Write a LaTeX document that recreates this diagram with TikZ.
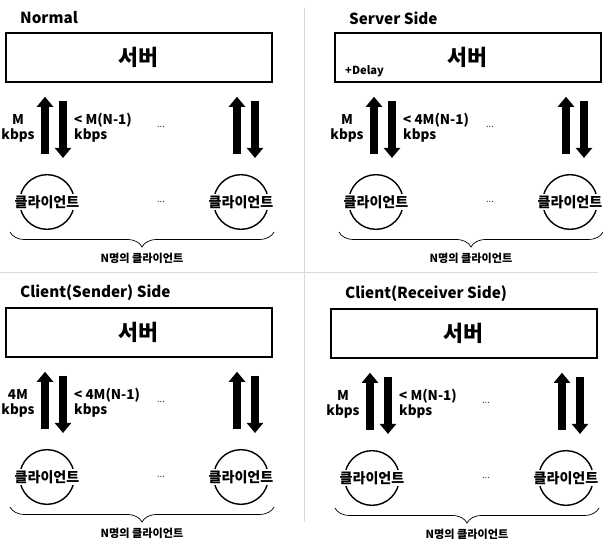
\documentclass[tikz,border=0pt]{standalone}
\usepackage{fontspec}
\setmainfont{Noto Sans CJK KR}
\usetikzlibrary{arrows.meta,decorations.pathreplacing,positioning}

\tikzset{
  title/.style={font=\bfseries\fontsize{13}{15}\selectfont, anchor=west},
  server/.style={draw, line width=1.5pt, minimum width=79.8mm, minimum height=14.7mm,
    anchor=north west, font=\bfseries\fontsize{18.5}{20}\selectfont},
  client/.style={draw, circle, line width=1.2pt, minimum size=16.4mm, inner sep=0pt},
  clientname/.style={fill=white, inner sep=1pt, font=\bfseries\fontsize{12}{13}\selectfont},
  rate/.style={font=\bfseries\fontsize{11.5}{13}\selectfont, inner sep=0pt},
  fat/.style={line width=2.4mm, -{Triangle[width=4.8mm,length=3mm]}},
  moredots/.style={font=\fontsize{8}{9}\selectfont, text=black!80},
  brace/.style={decorate, decoration={brace, amplitude=4.5mm}, line width=0.6pt},
  count/.style={font=\bfseries\fontsize{9.5}{11}\selectfont},
  sep/.style={draw=black!15, line width=0.8pt}
}

% #1 prefix, #2 left, #3 top, #4 title, #5 up rate, #6 down rate
\newcommand{\drawpanel}[6]{%
  \begin{scope}[name prefix=#1-]
    \node[title] (title) at ({#2+11},{#3-14}) {#4};
    \node[server] (srv) at (#2,#3) {서버};

    \node[client] (c1) at ({#2+42},{#3+170}) {};
    \node[client] (c2) at ({#2+236},{#3+170}) {};
    \node[clientname] (n1) at (c1) {클라이언트};
    \node[clientname] (n2) at (c2) {클라이언트};
    \node[moredots] (d2) at ({#2+156},{#3+170}) {...};

    % up / down streams
    \draw[fat, shorten <=6mm, shorten >=4.2mm] ([xshift=-0.6mm]c1.north) -- ([xshift=-0.6mm]c1.north |- srv.south);
    \draw[fat, shorten <=5.4mm, shorten >=4.8mm] ([xshift=4.8mm]c1.north |- srv.south) -- ([xshift=4.8mm]c1.north);
    \draw[fat, shorten <=6mm, shorten >=4.2mm] ([xshift=-1.2mm]c2.north) -- ([xshift=-1.2mm]c2.north |- srv.south);
    \draw[fat, shorten <=5.4mm, shorten >=4.8mm] ([xshift=4.2mm]c2.north |- srv.south) -- ([xshift=4.2mm]c2.north);

    \node[rate, align=center] (up) at ({#2+13},{#3+96}) {#5\\kbps};
    \node[rate, align=left, anchor=west] (down) at ({#2+69},{#3+96}) {#6\\kbps};
    \node[moredots] (d1) at ({#2+156},{#3+95}) {...};

    \draw[brace] ({#2+269},{#3+200}) -- ({#2+5},{#3+200});
    \node[count] (all) at ({#2+137},{#3+226}) {N명의 클라이언트};
  \end{scope}}

\begin{document}
\begin{tikzpicture}[x=0.03cm, y=-0.03cm]
  \useasboundingbox (0,0) rectangle (603,539);

  \draw[sep] (304,8) -- (304,522);
  \draw[sep] (0,272) -- (598,272);

  \drawpanel{N}{5}{32}{Normal}{M}{< M(N-1)}
  \drawpanel{S}{334}{32}{Server Side}{M}{< 4M(N-1)}
  \node[rate, font=\bfseries\fontsize{9.5}{11}\selectfont, anchor=west] (delay) at (345,71) {+Delay};
  \drawpanel{CS}{5}{307}{Client(Sender) Side}{4M}{< 4M(N-1)}
  \drawpanel{CR}{330}{308}{Client(Receiver Side)}{M}{< M(N-1)}
\end{tikzpicture}
\end{document}
